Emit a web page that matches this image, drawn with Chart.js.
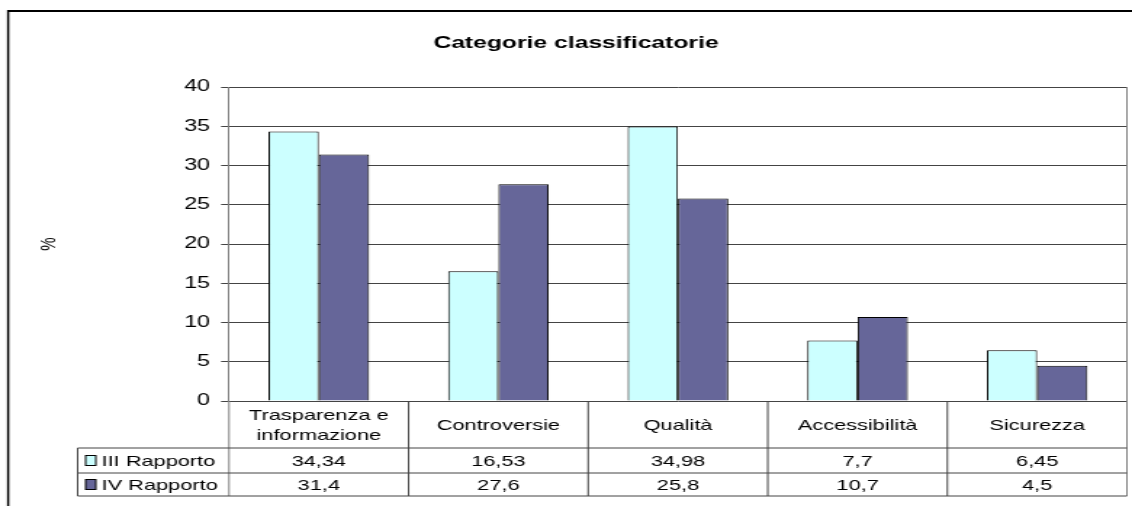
<!DOCTYPE html>
<html>
<head>
<meta charset="utf-8">
<script src="https://cdn.jsdelivr.net/npm/chart.js@4.4.1/dist/chart.umd.min.js"></script>
<style>
  html, body { margin: 0; padding: 0; background: #fff; overflow: hidden; }
  canvas { display: block; }
</style>
</head>
<body>
<!-- drawn narrow and stretched sideways, like the old spreadsheet export -->
<canvas id="chart" width="780" height="506" style="width:1132px;height:506px"></canvas>
<script>
const categories = [["Trasparenza e", "informazione"], "Controversie", "Qualità", "Accessibilità", "Sicurezza"];
const seriesNames = ["III Rapporto", "IV Rapporto"];
const terzoRapporto = [34.34, 16.53, 34.98, 7.7, 6.45];
const quartoRapporto = [31.4, 27.6, 25.8, 10.7, 4.5];
const yTicks = [0, 5, 10, 15, 20, 25, 30, 35, 40];

const FONT = "'Liberation Sans', Arial, sans-serif";
const colours = ["#CCFFFF", "#666699"];
const lineGrey = "#444";
const edgeGrey = "#808080";

function fmt(v) {
  return String(v).replace(".", ",");
}

// outer frame of the chart object (right and bottom sides fall off the page)
const framePlugin = {
  id: "frame",
  beforeDraw(chart) {
    const ctx = chart.ctx;
    ctx.save();
    ctx.fillStyle = "#fff";
    ctx.fillRect(0, 0, chart.width, chart.height);
    ctx.strokeStyle = "#000";
    ctx.lineWidth = 2;
    ctx.beginPath();
    ctx.moveTo(5, 11);
    ctx.lineTo(chart.width, 11);
    ctx.stroke();
    ctx.lineWidth = 1.5;
    ctx.beginPath();
    ctx.moveTo(5.6, 10);
    ctx.lineTo(5.6, chart.height);
    ctx.stroke();
    ctx.restore();
  }
};

// data table under the plot, columns follow the category scale
const tablePlugin = {
  id: "dataTable",
  afterDraw(chart) {
    const { ctx, chartArea: area } = chart;
    const x = chart.scales.x;
    const colW = x.width / categories.length;
    const top = area.bottom;
    const headBottom = top + 47;
    const rowH = [25, 23];
    const rows = [terzoRapporto, quartoRapporto];
    const tableLeft = 53.5;
    const bottom = headBottom + rowH[0] + rowH[1];

    ctx.save();
    ctx.lineWidth = 1;

    // right border of the plot area
    ctx.strokeStyle = edgeGrey;
    ctx.beginPath();
    ctx.moveTo(area.right, area.top);
    ctx.lineTo(area.right, bottom);
    ctx.stroke();

    // axis line carried down through the table
    ctx.beginPath();
    ctx.moveTo(area.left, top);
    ctx.lineTo(area.left, bottom);
    ctx.stroke();

    ctx.strokeStyle = lineGrey;
    // column separators
    for (let i = 1; i < categories.length; i++) {
      const cx = x.getPixelForValue(i) - colW / 2;
      ctx.beginPath();
      ctx.moveTo(cx, top);
      ctx.lineTo(cx, bottom);
      ctx.stroke();
    }
    // horizontal rules
    let y = headBottom;
    [0, rowH[0], rowH[1]].forEach(h => {
      y += h;
      ctx.beginPath();
      ctx.moveTo(tableLeft, y);
      ctx.lineTo(area.right, y);
      ctx.stroke();
    });
    ctx.beginPath();
    ctx.moveTo(tableLeft, headBottom);
    ctx.lineTo(tableLeft, bottom);
    ctx.stroke();

    ctx.fillStyle = "#000";
    ctx.font = "15px " + FONT;
    ctx.textAlign = "center";
    ctx.textBaseline = "middle";

    // category headers
    const headMid = (top + headBottom) / 2;
    categories.forEach((c, i) => {
      const cx = x.getPixelForValue(i);
      const lines = Array.isArray(c) ? c : [c];
      lines.forEach((t, k) => {
        ctx.fillText(t, cx, headMid + 1 + (k - (lines.length - 1) / 2) * 20);
      });
    });

    // value rows with legend keys
    let rowTop = headBottom;
    rows.forEach((vals, r) => {
      const mid = rowTop + rowH[r] / 2;
      ctx.textAlign = "center";
      vals.forEach((v, i) => {
        ctx.fillText(fmt(v), x.getPixelForValue(i), mid + 1);
      });
      ctx.fillStyle = colours[r];
      ctx.fillRect(59, mid - 5, 7, 10);
      ctx.strokeStyle = "#000";
      ctx.strokeRect(59, mid - 5, 7, 10);
      ctx.fillStyle = "#000";
      ctx.textAlign = "left";
      ctx.fillText(seriesNames[r], 70, mid + 1);
      rowTop += rowH[r];
    });

    ctx.restore();
  }
};

new Chart(document.getElementById("chart"), {
  type: "bar",
  data: {
    labels: categories,
    datasets: [
      {
        label: seriesNames[0],
        data: terzoRapporto,
        backgroundColor: colours[0],
        borderColor: "#000",
        borderWidth: 1
      },
      {
        label: seriesNames[1],
        data: quartoRapporto,
        backgroundColor: colours[1],
        borderColor: "#000",
        borderWidth: 1
      }
    ]
  },
  options: {
    responsive: false,
    devicePixelRatio: 1,
    animation: false,
    layout: { padding: { left: 17.3, right: 3.5, top: 0, bottom: 105 } },
    datasets: {
      bar: { categoryPercentage: 0.56, barPercentage: 1 }
    },
    plugins: {
      legend: { display: false },
      tooltip: { enabled: false },
      title: {
        display: true,
        text: "Categorie classificatorie",
        color: "#000",
        font: { family: FONT, size: 17, weight: "bold" },
        padding: { top: 33, bottom: 33.6 }
      }
    },
    scales: {
      x: {
        display: false
      },
      y: {
        min: 0,
        max: 40,
        afterBuildTicks: s => { s.ticks = yTicks.map(v => ({ value: v })); },
        afterFit: s => { s.width = 140.5; },
        ticks: {
          color: "#000",
          font: { family: FONT, size: 16 },
          padding: 7.6
        },
        grid: { color: lineGrey, tickLength: 5.5, lineWidth: 1 },
        border: { color: edgeGrey },
        title: {
          display: true,
          text: "%",
          color: "#000",
          font: { family: FONT, size: 15 },
          padding: { top: 7.4, bottom: 0 }
        }
      }
    }
  },
  plugins: [framePlugin, tablePlugin]
});
</script>
</body>
</html>
